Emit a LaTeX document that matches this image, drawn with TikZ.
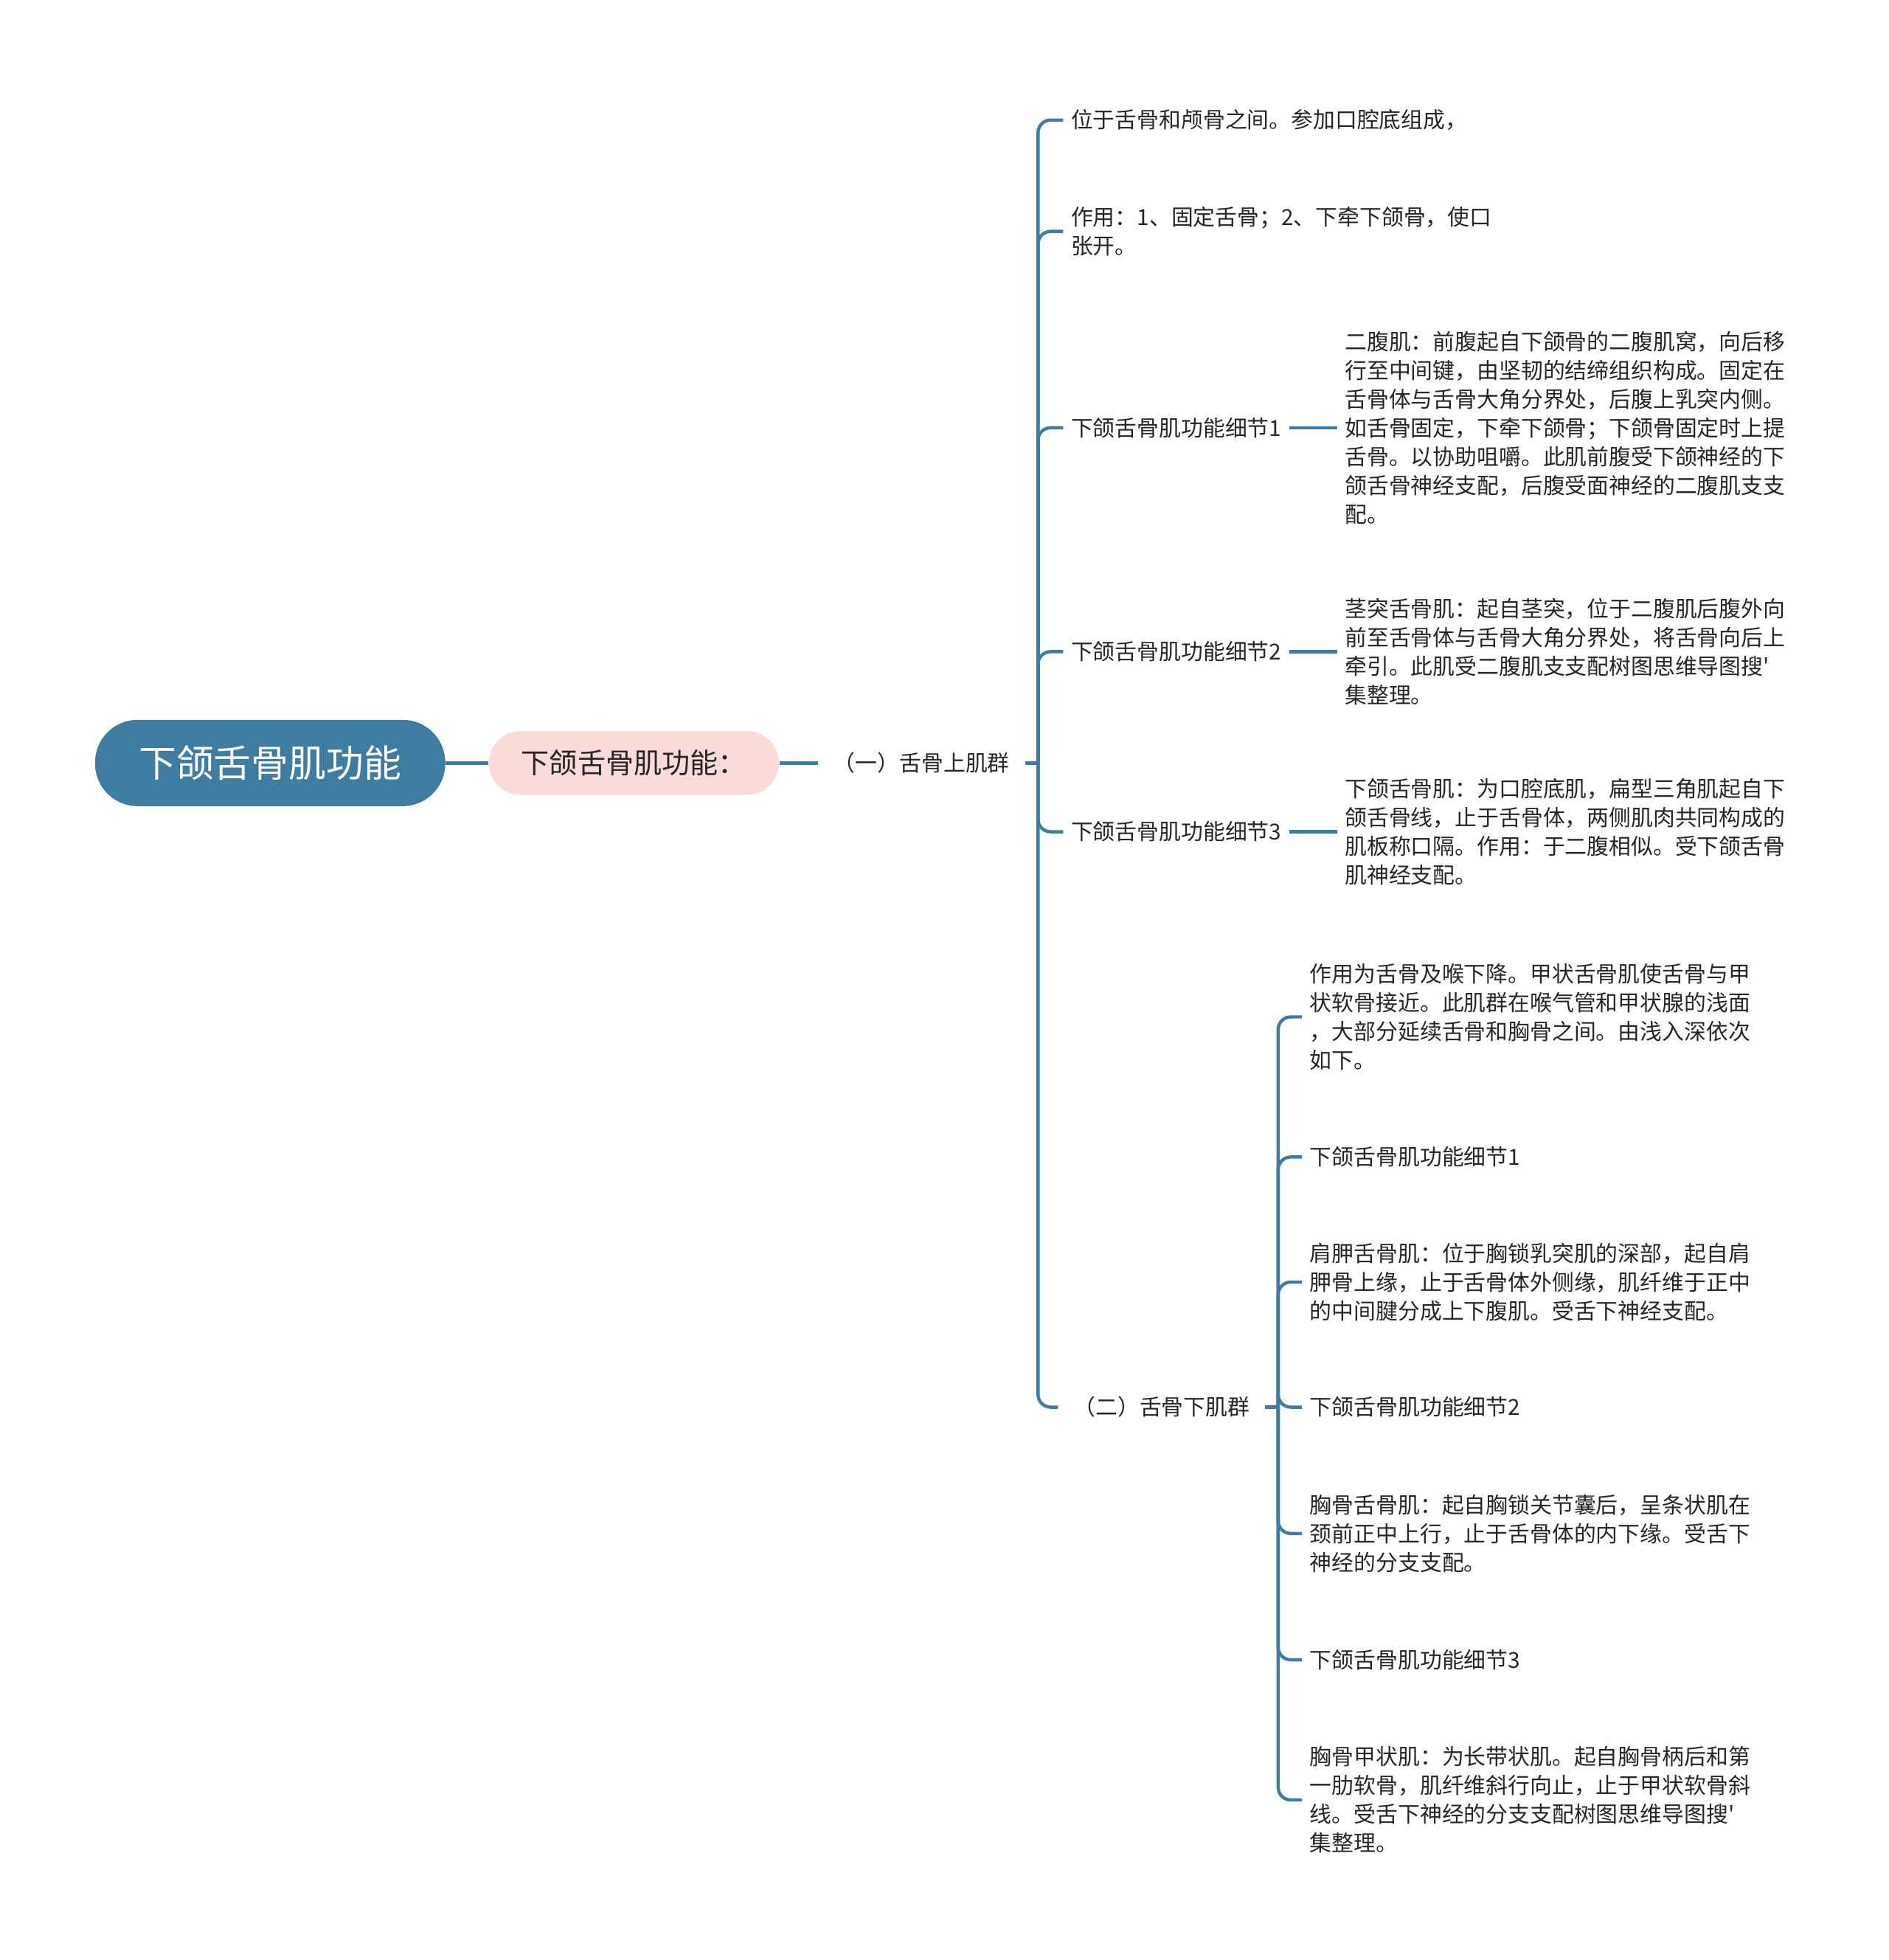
\documentclass[tikz,border=0pt]{standalone}
\usepackage{fontspec}
\newfontfamily\cjk{Noto Sans CJK SC}
\usetikzlibrary{positioning,calc}
\definecolor{LINK}{HTML}{3F7CA2}
\definecolor{PINK}{HTML}{FBDADA}
\definecolor{INK}{HTML}{262626}

\begin{document}
\begin{tikzpicture}[x=0.5pt,y=-0.5pt]
\tikzstyle{myLink}=[draw=LINK,line width=1.3pt]
\tikzstyle{root}=[fill=LINK,text=white,font=\cjk\fontsize{15}{18}\selectfont,rounded corners=17pt,minimum width=140pt,minimum height=34.5pt,inner sep=0pt]
\tikzstyle{topic}=[fill=PINK,text=INK,font=\cjk\fontsize{11.25}{14}\selectfont,rounded corners=12.75pt,minimum width=116pt,minimum height=25.5pt,inner sep=0pt]
\tikzstyle{group}=[text=INK,font=\cjk\fontsize{8.8}{11.5}\selectfont,inner xsep=6pt,inner ysep=2pt,anchor=west]
\tikzstyle{leaf}=[text=INK,font=\cjk\fontsize{8.8}{11.5}\selectfont,inner xsep=3pt,inner ysep=2pt,align=left,anchor=west]

\newcommand{\branchto}[2]{
\foreach \c in {#2}
    \draw[myLink,rounded corners=5pt] (#1) |- (\c.west);
}

\useasboundingbox (0,0) rectangle (1510,1567);

% main topic
\node[root] (root) at (216,610) {下颌舌骨肌功能};
\node[topic,right=17pt of root] (topic) {下颌舌骨肌功能：};
\node[group] (supra) at (654,610) {（一）舌骨上肌群};
\coordinate (trunkA) at (830,610);

% suprahyoid group
\node[leaf] (sA1) at (850,96) {位于舌骨和颅骨之间。参加口腔底组成，};
\node[leaf] (sA2) at (850,185) {作用：1、固定舌骨；2、下牵下颌骨，使口\\张开。};
\node[leaf] (dA1) at (850,342) {下颌舌骨肌功能细节1};
\node[leaf] (dA2) at (850,521) {下颌舌骨肌功能细节2};
\node[leaf] (dA3) at (850,665) {下颌舌骨肌功能细节3};
\node[group] (infra) at (846,1125) {（二）舌骨下肌群};

\node[leaf,right=19pt of dA1] (bA1) {二腹肌：前腹起自下颌骨的二腹肌窝，向后移\\行至中间键，由坚韧的结缔组织构成。固定在\\舌骨体与舌骨大角分界处，后腹上乳突内侧。\\如舌骨固定，下牵下颌骨；下颌骨固定时上提\\舌骨。以协助咀嚼。此肌前腹受下颌神经的下\\颌舌骨神经支配，后腹受面神经的二腹肌支支\\配。};
\node[leaf,right=19pt of dA2] (bA2) {茎突舌骨肌：起自茎突，位于二腹肌后腹外向\\前至舌骨体与舌骨大角分界处，将舌骨向后上\\牵引。此肌受二腹肌支支配树图思维导图搜'\\集整理。};
\node[leaf,right=19pt of dA3] (bA3) {下颌舌骨肌：为口腔底肌，扁型三角肌起自下\\颌舌骨线，止于舌骨体，两侧肌肉共同构成的\\肌板称口隔。作用：于二腹相似。受下颌舌骨\\肌神经支配。};

% infrahyoid group
\coordinate (trunkB) at (1022,1125);
\node[leaf] (sB1) at (1041,813) {作用为舌骨及喉下降。甲状舌骨肌使舌骨与甲\\状软骨接近。此肌群在喉气管和甲状腺的浅面\\，大部分延续舌骨和胸骨之间。由浅入深依次\\如下。};
\node[leaf] (dB1) at (1041,925) {下颌舌骨肌功能细节1};
\node[leaf] (sB2) at (1041,1025) {肩胛舌骨肌：位于胸锁乳突肌的深部，起自肩\\胛骨上缘，止于舌骨体外侧缘，肌纤维于正中\\的中间腱分成上下腹肌。受舌下神经支配。};
\node[leaf] (dB2) at (1041,1125) {下颌舌骨肌功能细节2};
\node[leaf] (sB3) at (1041,1226) {胸骨舌骨肌：起自胸锁关节囊后，呈条状肌在\\颈前正中上行，止于舌骨体的内下缘。受舌下\\神经的分支支配。};
\node[leaf] (dB3) at (1041,1327) {下颌舌骨肌功能细节3};
\node[leaf] (sB4) at (1041,1439) {胸骨甲状肌：为长带状肌。起自胸骨柄后和第\\一肋软骨，肌纤维斜行向止，止于甲状软骨斜\\线。受舌下神经的分支支配树图思维导图搜'\\集整理。};

% connectors
\draw[myLink] (root) -- (topic);
\draw[myLink] (topic) -- (supra);
\draw[myLink] (supra.east) -- (trunkA);
\branchto{trunkA}{sA1,sA2,dA1,dA2,dA3,infra}
\foreach \x in {1,2,3}
    \draw[myLink] (dA\x) -- (bA\x);
\draw[myLink] (infra.east) -- (trunkB);
\branchto{trunkB}{sB1,dB1,sB2,dB2,sB3,dB3,sB4}
\end{tikzpicture}
\end{document}
